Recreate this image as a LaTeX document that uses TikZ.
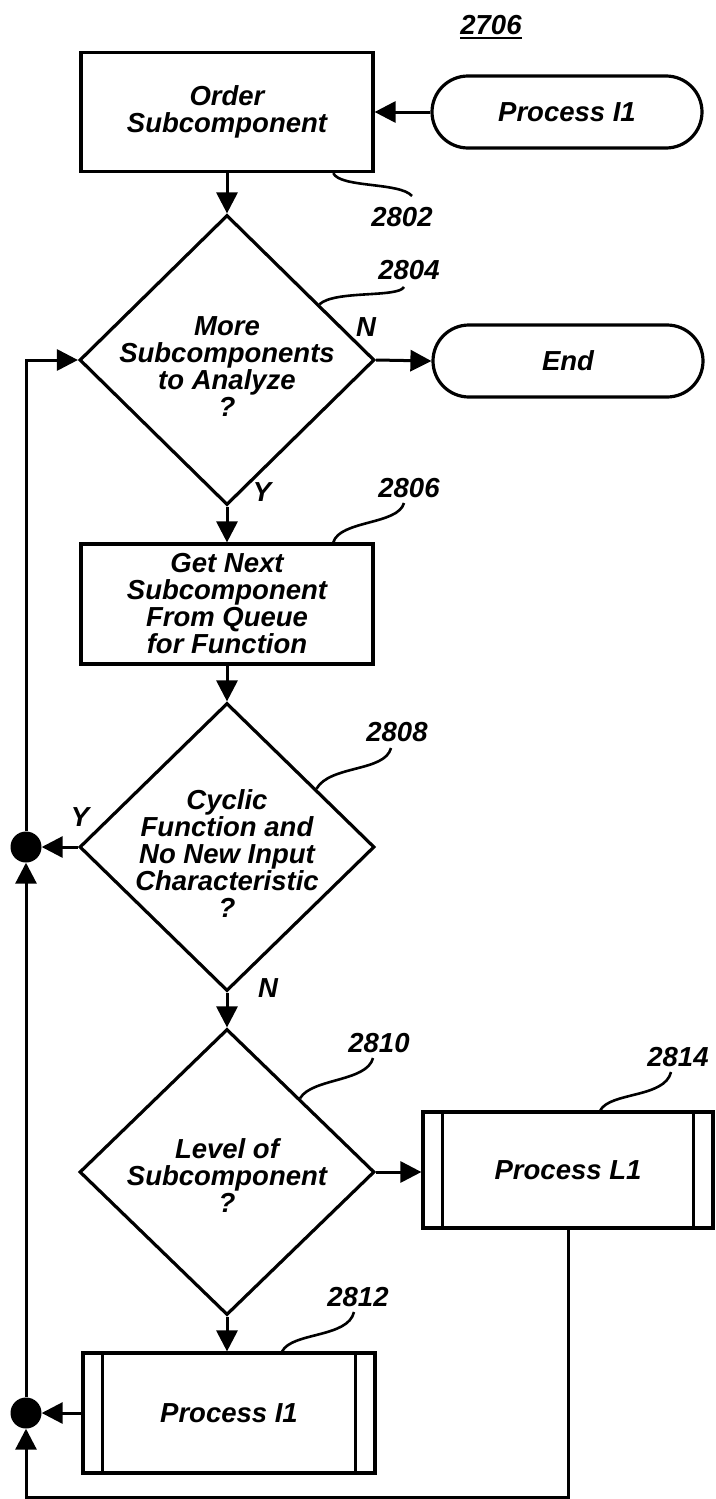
\documentclass[tikz,border=0pt]{standalone}
\usepackage{fontspec}
\setmainfont{Liberation Sans}
\usetikzlibrary{arrows.meta,shapes.geometric,calc}
\begin{document}
\begin{tikzpicture}[x=1pt,y=-1pt,
  every node/.style={font=\fontsize{27.5}{27}\selectfont\bfseries\itshape},
  ln/.style={line width=3pt},
  arr/.style={ln,-{Triangle[length=21pt,width=21pt]}},
  box/.style={draw,line width=3.2pt,rectangle,minimum width=292pt,minimum height=120pt,inner sep=0pt,align=center},
  term/.style={draw,line width=3.2pt,rectangle,rounded corners=36pt,minimum width=270pt,minimum height=72pt,inner sep=0pt},
  dia/.style={draw,diamond,line width=3.2pt,minimum width=295pt,minimum height=290pt,inner sep=0pt},
  txt/.style={align=center,inner sep=0pt},
  dot/.style={circle,fill,inner sep=0pt,minimum size=31pt},
  num/.style={inner sep=0pt},
  lead/.style={line width=2.6pt},
]
\useasboundingbox (0,0) rectangle (715,1499);

% title
\node[num] (n2706) at (491,25) {2706};
\draw[line width=2.6pt] ($(n2706.south west)+(0,3)$) -- ($(n2706.south east)+(0,3)$);

% nodes
\node[box,minimum height=119pt] (o) at (227,112) {Order\\Subcomponent};
\node[term] (t1) at (567,112) {Process I1};
\node[dia] (d1) at (227,360) {};
\node[txt] at (227,367) {More\\Subcomponents\\to Analyze\\?};
\node[term] (e) at (568,361) {End};
\node[box] (g) at (227,604) {Get Next\\Subcomponent\\From Queue\\for Function};
\node[dia,minimum height=288pt] (d2) at (227,847) {};
\node[txt] at (227,854) {Cyclic\\Function and\\No New Input\\Characteristic\\?};
\node[dia,minimum height=286pt] (d3) at (227,1172) {};
\node[txt] at (227,1176) {Level of\\Subcomponent\\?};
\node[box,minimum width=290pt,minimum height=116pt] (pl) at (568,1170) {Process L1};
\node[box,minimum height=120pt] (pi) at (229,1413) {Process I1};
\node[dot] (dot1) at (26,847) {};
\node[dot] (dot2) at (26,1413) {};
\coordinate (cb) at (26,1497);

% inner bars of predefined processes
\foreach \p in {pl,pi}{
  \draw[line width=2.6pt] ($(\p.north west)+(21,0)$) -- ($(\p.south west)+(21,0)$);
  \draw[line width=2.6pt] ($(\p.north east)+(-21,0)$) -- ($(\p.south east)+(-21,0)$);
}

% connectors
\draw[arr] (t1.west) -- (o.east);
\draw[arr] (o.south) -- (d1.north);
\draw[arr] (d1.east) -- (e.west);
\draw[arr] (d1.south) -- (g.north);
\draw[arr] (g.south) -- (d2.north);
\draw[arr] (d2.west) -- (dot1.east);
\draw[arr] (d2.south) -- (d3.north);
\draw[arr] (d3.east) -- (pl.west |- d3.east);
\draw[arr] (d3.south) -- (pi.north -| d3.south);
\draw[arr] (pi.west) -- (dot2.east);
\draw[arr] (pl.south) |- (cb) -- (dot2.south);
\draw[arr] (dot2.north) -- (dot1.south);
\draw[arr] (dot1.north) |- (d1.west);

% branch labels
\node[num] at (366,327) {N};
\node[num] at (262,492) {Y};
\node[num] at (80,817) {Y};
\node[num] at (268,988) {N};

% reference numbers with leaders
\node[num] (n2802) at (402,217) {2802};
\draw[lead] ($(o.south west)!0.86!(o.south east)$) .. controls (340,188) and (400,182) .. (412,196);
\node[num] (n2804) at (409,270) {2804};
\draw[lead] (404,287) .. controls (398,298) and (335,290) .. ($(d1.north)!0.62!(d1.east)$);
\node[num] (n2806) at (409,488) {2806};
\draw[lead] (404,503) .. controls (398,525) and (340,520) .. ($(g.north west)!0.86!(g.north east)$);
\node[num] (n2808) at (397,732) {2808};
\draw[lead] (391,748) .. controls (385,772) and (330,765) .. ($(d2.north)!0.6!(d2.east)$);
\node[num] (n2810) at (379,1043) {2810};
\draw[lead] (373,1058) .. controls (367,1082) and (312,1078) .. ($(d3.north)!0.49!(d3.east)$);
\node[num] (n2814) at (678,1057) {2814};
\draw[lead] (671,1072) .. controls (665,1098) and (610,1092) .. ($(pl.north west)!0.61!(pl.north east)$);
\node[num] (n2812) at (358,1297) {2812};
\draw[lead] (354,1312) .. controls (348,1338) and (292,1332) .. ($(pi.north west)!0.68!(pi.north east)$);
\end{tikzpicture}
\end{document}
